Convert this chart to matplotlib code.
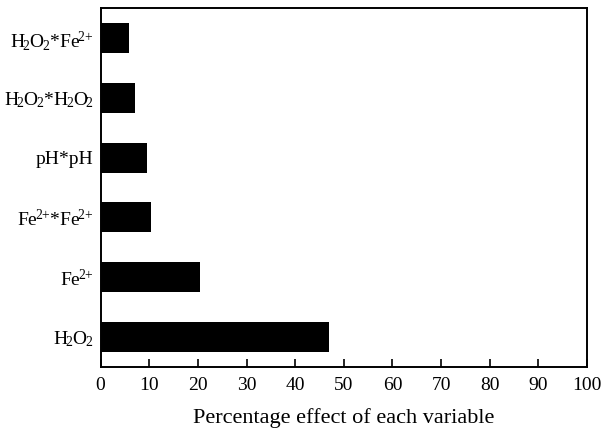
import numpy as np
from matplotlib import pyplot as plt

plt.rcParams['font.family'] = ['Liberation Serif', 'DejaVu Serif']
plt.rcParams['mathtext.fontset'] = 'custom'
plt.rcParams['mathtext.rm'] = 'Liberation Serif'
plt.rcParams['mathtext.it'] = 'Liberation Serif:italic'

# Variables from bottom to top
h2o2 = 'H$_{\\!2}$O$_{\\!2}$'
fe = 'Fe$^{\\!2{+}}$'
labels = [h2o2, fe, fe + '*' + fe, 'pH*pH', h2o2 + '*' + h2o2, h2o2 + '*' + fe]
effects = [47.0, 20.5, 10.3, 9.5, 7.1, 5.9]
xticks = np.arange(0, 101, 10)

fig = plt.figure(figsize=(6.06, 4.32), dpi=100)
ax = fig.add_axes([0.166, 0.1505, 0.8026, 0.831])

y = np.arange(len(labels))
ax.barh(y, effects, height=0.5, color='black')

ax.set_xlim(0, 100)
ax.set_ylim(-0.5, 5.5)
ax.set_xticks(xticks)
ax.set_yticks(y)
ax.set_yticklabels(labels)
ax.tick_params(axis='x', direction='in', length=6, width=1.2, labelsize=14, pad=7)
ax.tick_params(axis='y', length=0, labelsize=14, pad=5)
for s in ax.spines.values():
    s.set_linewidth(1.4)

ax.set_xlabel('Percentage effect of each variable', fontsize=16, labelpad=10)

plt.savefig('out.png', dpi=100)
